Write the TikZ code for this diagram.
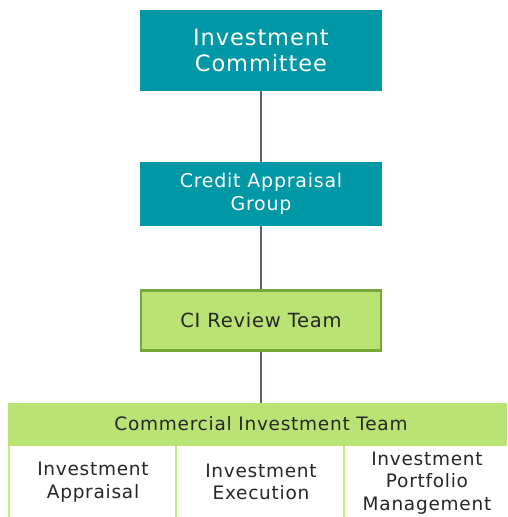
\documentclass[tikz,border=0pt]{standalone}
\usepackage{fontspec}
\setmainfont{DejaVu Sans}[LetterSpace=4]
\usepackage{tikz}

\definecolor{tealbox}{HTML}{0098A6}
\definecolor{limebox}{HTML}{B9E375}
\definecolor{limeedge}{HTML}{76A83A}
\definecolor{linkgray}{HTML}{5A6272}
\definecolor{cellline}{HTML}{C2EA85}

\begin{document}
\begin{tikzpicture}[x=1pt,y=-1pt,
    tealnode/.style={rectangle,fill=tealbox,text=white,align=center,inner sep=0pt},
    limenode/.style={rectangle,fill=limebox,draw=limeedge,line width=2.5pt,align=center,inner sep=0pt,text=black!85},
    cellnode/.style={rectangle,align=center,inner sep=0pt,text=black!85,font=\fontsize{18.5}{22.5}\selectfont},
    link/.style={draw=linkgray,line width=1.4pt}]
      \useasboundingbox (0,0) rectangle (507,517);
      % top of the chain
      \node[tealnode,minimum width=242pt,minimum height=81pt,font=\fontsize{22.5}{26.5}\selectfont] (ic) at (261,50.5) {Investment\\Committee};
      \node[tealnode,minimum width=242pt,minimum height=64pt,font=\fontsize{19}{23}\selectfont] (cag) at (261,194) {Credit Appraisal\\Group};
      \node[limenode,minimum width=240pt,minimum height=60pt,font=\fontsize{19.5}{23}\selectfont] (cirt) at (261,320.5) {CI Review Team};
      % team at the bottom
      \fill[limebox] (8,403) rectangle (507,446);
      \node[cellnode] (cit) at (261,424) {Commercial Investment Team};
      \draw[cellline,line width=2.5pt] (9,446) -- (9,517);
      \draw[cellline,line width=2.5pt] (176,446) -- (176,517);
      \draw[cellline,line width=2.5pt] (344,446) -- (344,517);
      \node[cellnode] (ia) at (93,482) {Investment\\Appraisal};
      \node[cellnode] (ie) at (261,482) {Investment\\Execution};
      \node[cellnode] (ipm) at (427,483) {Investment\\Portfolio\\Management};
      % connectors
      \path[link] (ic.south) -- (cag.north);
      \path[link] (cag.south) -- (cirt.north);
      \coordinate (citTop) at (261,403);
      \path[link] (cirt.south) -- (citTop);
\end{tikzpicture}
\end{document}
